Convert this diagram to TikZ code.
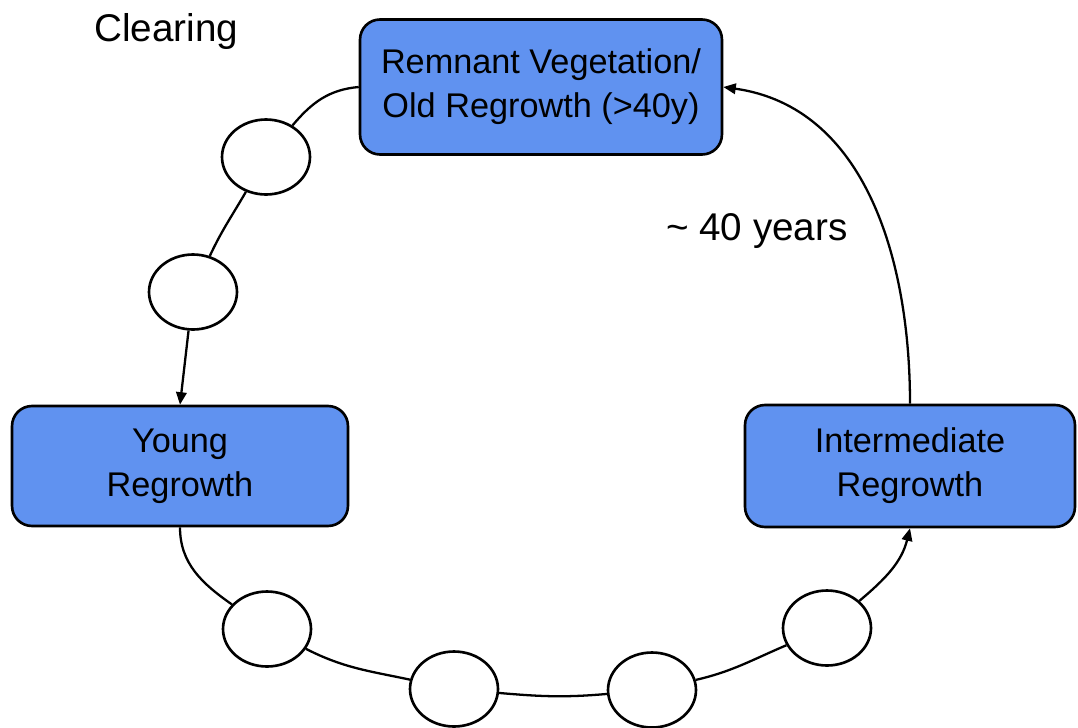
\documentclass[tikz,border=0pt]{standalone}
\usepackage{fontspec}
\setmainfont{Liberation Sans}
\usetikzlibrary{arrows.meta, shapes.geometric}
\definecolor{stagefill}{HTML}{6092F0}

\begin{document}
\begin{tikzpicture}[x=0.02cm, y=0.02cm, >={Triangle[length=2.5mm, width=2.1mm]}, line width=1.3pt,
  stagebox/.style={draw=black, line width=1.5pt, fill=stagefill, rounded corners=0.4cm,
    align=center, font=\fontsize{19.5}{25}\selectfont},
  blank/.style={draw, ellipse, line width=1.5pt, fill=white, inner sep=0pt,
    minimum width=1.76cm, minimum height=1.5cm},
  note/.style={inner sep=0pt, anchor=base west, font=\fontsize{22}{26}\selectfont}]
  \useasboundingbox (0,0) rectangle (1078,-727);

  % Stadia
  \node[stagebox, minimum width=7.24cm, minimum height=2.7cm] (remnant) at (541,-87) {Remnant Vegetation/\\Old Regrowth (>40y)};
  \node[stagebox, minimum width=6.72cm, minimum height=2.4cm] (young) at (180,-466) {Young\\Regrowth};
  \node[stagebox, minimum width=6.6cm, minimum height=2.44cm] (inter) at (910,-466) {Intermediate\\Regrowth};

  % Mezikroky
  \node[blank] (s1) at (266,-157) {};
  \node[blank] (s2) at (193,-292) {};
  \node[blank] (s3) at (267,-629) {};
  \node[blank] (s4) at (454,-689) {};
  \node[blank] (s5) at (652,-690) {};
  \node[blank] (s6) at (827,-628) {};

  % Popisky
  \node[note] (clearing) at (93,-41) {Clearing};
  \node[note] (years) at (665,-240) {\textasciitilde\ 40 years};

  % Cyklus
  \draw (remnant.west) to[out=185, in=50] (s1);
  \draw (s1) to[out=-120, in=65] (s2);
  \draw[->] (s2) -- (young.north);
  \draw (young.south) to[out=-90, in=145] (s3);
  \draw (s3) to[out=-27, in=168] (s4);
  \draw (s4) to[out=-5, in=185] (s5);
  \draw (s5) to[out=13, in=203] (s6);
  \draw[->] (s6) to[out=40, in=-104] (inter.south);
  \draw[->] (inter.north) to[out=90, in=-8] (remnant.east);
\end{tikzpicture}
\end{document}
